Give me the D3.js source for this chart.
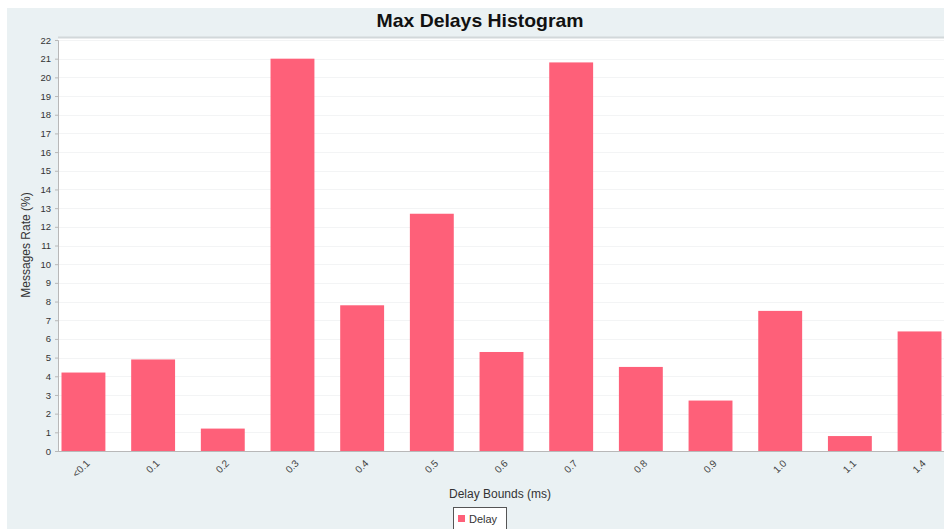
<!DOCTYPE html>
<html><head><meta charset="utf-8">
<script src="https://cdn.jsdelivr.net/npm/d3@7"></script>
<style>html,body{margin:0;padding:0;background:#fff;}svg{display:block;font-family:"Liberation Sans",Arial,sans-serif;}</style>
</head><body>
<svg id="c" width="944" height="529"></svg>
<script>
const categories = ["<0.1","0.1","0.2","0.3","0.4","0.5","0.6","0.7","0.8","0.9","1.0","1.1","1.4"];
const delayValues = [4.2,4.9,1.2,21.0,7.8,12.7,5.3,20.8,4.5,2.7,7.5,0.8,6.4];
const yTicks = d3.range(0,23);
const seriesName = "Delay";
const chartTitle = "Max Delays Histogram";
const xTitle = "Delay Bounds (ms)";
const yTitle = "Messages Rate (%)";

const svg = d3.select("#c");
const W = 944, H = 529;
const plot = {left:58, top:38, right:945, bottom:451};
const barColor = "#fe6079";

svg.append("rect").attr("x",7).attr("y",8).attr("width",W-7).attr("height",H-8).attr("fill","#eaf1f3");

svg.append("rect").attr("x",plot.left).attr("y",plot.top).attr("width",plot.right-plot.left).attr("height",plot.bottom-plot.top).attr("fill","#fff");
svg.append("line").attr("x1",plot.left).attr("x2",plot.right).attr("y1",plot.top-0.5).attr("y2",plot.top-0.5).attr("stroke","#d2d8da").attr("stroke-width",2);

const x = d3.scaleBand().domain(categories).range([plot.left+3.5, plot.right-3.5]).paddingInner(0.37).paddingOuter(0);
const y = d3.scaleLinear().domain([0,22]).range([plot.bottom, 40]);

// grid
svg.append("g").selectAll("line").data(yTicks.filter(d=>d>0)).join("line")
  .attr("x1",plot.left).attr("x2",plot.right)
  .attr("y1",d=>Math.round(y(d))+0.5).attr("y2",d=>Math.round(y(d))+0.5)
  .attr("stroke","#f3f4f5").attr("stroke-width",1);

// bars
svg.append("g").selectAll("rect").data(delayValues).join("rect")
  .attr("x",(d,i)=>x(categories[i]))
  .attr("width",x.bandwidth())
  .attr("y",d=>y(d))
  .attr("height",d=>plot.bottom-y(d))
  .attr("fill",barColor);

// y axis
const ya = svg.append("g").attr("transform",`translate(${plot.left},0)`)
  .call(d3.axisLeft(y).tickValues(yTicks).tickSize(3).tickPadding(4).tickFormat(d3.format("d")));
ya.select(".domain").attr("stroke","#b8b8b8");
ya.selectAll(".tick line").attr("stroke","#b8b8b8");
ya.selectAll("text").attr("font-size",9.5).attr("fill","#333").attr("font-family","Liberation Sans, Arial, sans-serif");

// x axis
const xa = svg.append("g").attr("transform",`translate(0,${plot.bottom})`)
  .call(d3.axisBottom(x).tickSize(0).tickPadding(0));
xa.select(".domain").attr("d",`M${plot.left},0.5H${plot.right}`).attr("stroke","#b8b8b8");
xa.selectAll("text")
  .attr("font-size",10).attr("fill","#444").attr("font-family","Liberation Sans, Arial, sans-serif")
  .attr("text-anchor","end").attr("dy","0")
  .attr("transform","translate(7,13) rotate(-45)");

// title
svg.append("text").attr("x",480).attr("y",27).attr("text-anchor","middle")
  .attr("font-size",19).attr("font-weight","bold").attr("fill","#111")
  .attr("textLength",207).attr("lengthAdjust","spacingAndGlyphs").text(chartTitle);

// axis titles
svg.append("text").attr("x",500).attr("y",498).attr("text-anchor","middle")
  .attr("font-size",12).attr("fill","#333").text(xTitle);
svg.append("text").attr("transform","translate(30,245) rotate(-90)").attr("text-anchor","middle")
  .attr("font-size",12).attr("fill","#333").text(yTitle);

// legend
const lg = svg.append("g");
lg.append("rect").attr("x",453.5).attr("y",507.5).attr("width",53).attr("height",26).attr("fill","#fff").attr("stroke","#555");
lg.append("rect").attr("x",458).attr("y",515).attr("width",7).attr("height",7).attr("fill",barColor);
lg.append("text").attr("x",469).attr("y",523).attr("font-size",11).attr("fill","#333").text(seriesName);
</script>
</body></html>
